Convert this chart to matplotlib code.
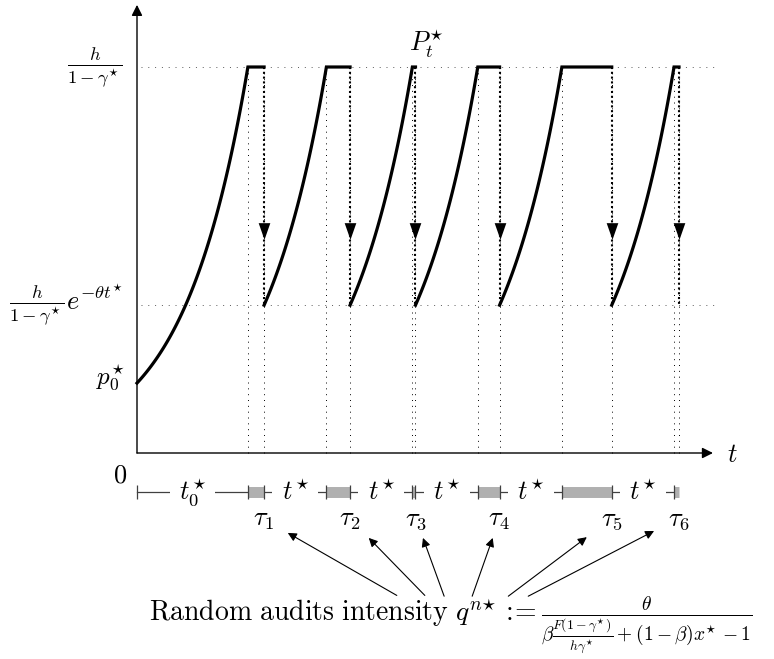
import numpy as np
import matplotlib
matplotlib.use('Agg')
import matplotlib.pyplot as plt

plt.rcParams['mathtext.fontset'] = 'cm'
plt.rcParams['font.family'] = ['DejaVu Serif']

# Model values: t in units of t*, P in units of h/(1-gamma*)
T_STAR = 1.0
T0_STAR = 1.78
TOP = 1.0        # h/(1-gamma*)
LOW = 0.383      # h/(1-gamma*) e^{-theta t*}
TAU = [0.26, 0.38, 0.05, 0.35, 0.80, 0.08]   # audit waiting spans tau_1..tau_6

# Arrows from the caption up to the tau labels (tail -> head)
ARROW_TAILS = [(4.17, -0.369), (4.62, -0.369), (4.93, -0.371),
               (5.38, -0.371), (5.96, -0.371), (6.28, -0.371)]
ARROW_HEADS = [(2.42, -0.207), (3.72, -0.220), (4.59, -0.220),
               (5.71, -0.220), (7.22, -0.218), (8.30, -0.202)]

S = r'{\!\star}'   # tight superscript star

# Derived event times
theta = np.log(TOP / LOW) / T_STAR
tops, audits = [], []
t = T0_STAR
for tau in TAU:
    tops.append(t)
    audits.append(t + tau)
    t = t + tau + T_STAR
p0 = TOP * np.exp(-theta * T0_STAR)

# Figure in data coordinates (137 px = t 0, 453 px = P 0)
fig = plt.figure(figsize=(7.74, 6.59), dpi=100)
ax = fig.add_axes([0, 0, 1, 1])
ax.set_xlim(-137 / 62.3, (774 - 137) / 62.3)
ax.set_ylim(-(659 - 453) / 386, 453 / 386)
ax.axis('off')

FS = 19

# Axes with arrows
arrow_kw = dict(arrowstyle='-|>', color='k', lw=1.0, mutation_scale=16,
                shrinkA=0, shrinkB=0)
ax.annotate('', xy=(9.245, 0), xytext=(0, 0), arrowprops=arrow_kw)
ax.annotate('', xy=(0, 1.161), xytext=(0, 0), arrowprops=arrow_kw)

# Horizontal dotted guides
for lvl in [TOP, LOW]:
    ax.plot([0.06, 9.28], [lvl, lvl], color='0.35', lw=0.7, ls=(0, (1, 6)))

# Vertical dotted guides and audit drops
head = [(-3.5, 5), (3.5, 5), (0, -5)]
for T in tops:
    ax.plot([T, T], [0, TOP], color='k', lw=0.7, ls=(0, (1, 5)))
for A in audits:
    ax.plot([A, A], [0, TOP], color='k', lw=0.7, ls=(0, (1, 5)))
    ax.plot([A, A], [TOP, LOW], color='k', lw=1.5, ls=(0, (1, 1.3)))
    ax.plot(A, LOW + 0.31 * (TOP - LOW), marker=head, ms=12, color='k', mew=0)

# Price path P_t*
starts = [0.0] + audits[:-1]
for s, T, A in zip(starts, tops, audits):
    tt = np.linspace(s, T, 120)
    xs = np.concatenate([tt, [A]])
    ys = np.concatenate([TOP * np.exp(-theta * (T - tt)), [TOP]])
    ax.plot(xs, ys, color='k', lw=2.3, solid_joinstyle='miter', zorder=5)

# Timeline under the axis
YL = -0.101
line_kw = dict(color='0.25', lw=0.9, zorder=3)
white = dict(boxstyle='square,pad=0.35', fc='white', ec='none')
ax.plot([0, tops[0]], [YL, YL], **line_kw)
ax.text(tops[0] / 2, YL, r'$t_0^' + S + '$', fontsize=FS, ha='center', va='center',
        bbox=white, zorder=4)
for A, T in zip(audits[:-1], tops[1:]):
    ax.plot([A, T], [YL, YL], **line_kw)
    ax.text((A + T) / 2, YL, r'$t^' + S + '$', fontsize=FS, ha='center', va='center',
            bbox=white, zorder=4)
for T, A in zip(tops, audits):
    ax.plot([T, A], [YL, YL], color='#b0b0b0', lw=7.9, solid_capstyle='butt', zorder=5)
ticks = [0.0] + tops + audits[:-1]
ax.vlines(ticks, YL - 0.019, YL + 0.019, color='0.25', lw=0.9, zorder=6)
for i, A in enumerate(audits):
    ax.text(A, -0.171, r'$\tau_{%d}$' % (i + 1), fontsize=FS, ha='center',
            va='center', zorder=7)

# Labels
ax.text(-0.27, -0.057, r'$0$', fontsize=FS, ha='center', va='center')
ax.text(9.55, -0.003, r'$t$', fontsize=FS, ha='center', va='center')
ax.text(4.64, 1.06, r'$P_t^' + S + '$', fontsize=FS, ha='center', va='center')
ax.text(-0.22, TOP, r'$\frac{h}{1-\gamma^' + S + '}$', fontsize=FS, ha='right',
        va='center')
ax.text(-0.22, LOW, r'$\frac{h}{1-\gamma^' + S + r'}e^{-\theta t^' + S + '}$',
        fontsize=FS, ha='right', va='center')
ax.text(-0.19, p0 + 0.015, r'$p_0^' + S + '$', fontsize=FS - 1, ha='right', va='center')

# Caption and arrows
for tail, tip in zip(ARROW_TAILS, ARROW_HEADS):
    ax.annotate('', xy=tip, xytext=tail,
                arrowprops=dict(arrowstyle='-|>', color='k', lw=0.8,
                                mutation_scale=13, shrinkA=0, shrinkB=0))
ax.text(5.04, -0.445,
        r'$\mathrm{Random\ audits\ intensity}\ q^{n' + S + r'}:\!\!= '
        r'\frac{\theta}{\beta\frac{F(1-\gamma^' + S + r')}{h\gamma^' + S + r'}'
        r'+(1-\beta)x^' + S + '-1}$',
        fontsize=20, ha='center', va='center')

fig.savefig('out.png', dpi=100)
